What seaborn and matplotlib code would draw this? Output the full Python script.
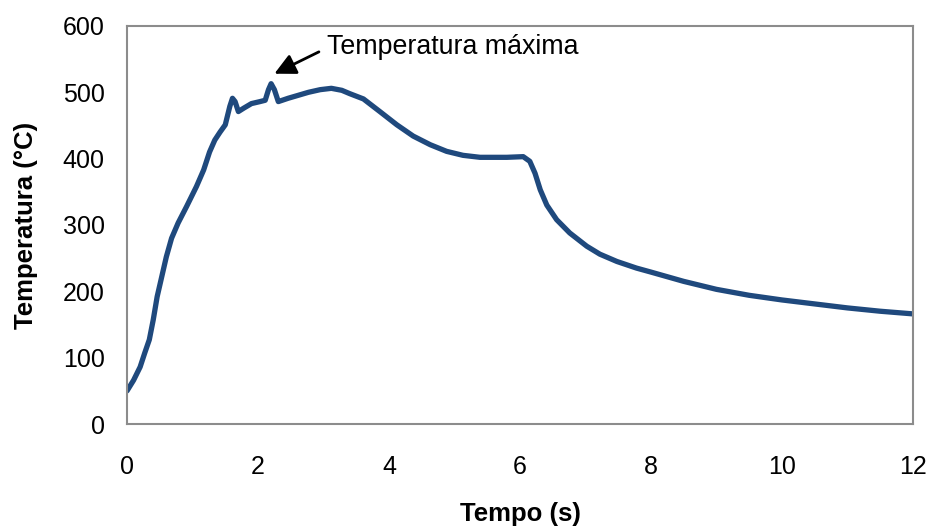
import matplotlib
matplotlib.use("Agg")
import matplotlib.pyplot as plt
import seaborn as sns
import pandas as pd

# Temperature history of the measured point
tempo_s = [0.00, 0.10, 0.20, 0.27, 0.34, 0.40, 0.46, 0.53, 0.60, 0.68, 0.78,
           0.91, 1.06, 1.17, 1.26, 1.34, 1.42, 1.50, 1.57, 1.61, 1.65, 1.70,
           1.78, 1.90, 2.03, 2.11, 2.16, 2.20, 2.25, 2.31, 2.46, 2.77, 2.95,
           3.12, 3.28, 3.40, 3.61, 3.86, 4.12, 4.37, 4.63, 4.88, 5.13, 5.39,
           5.80, 6.05, 6.15, 6.23, 6.31, 6.41, 6.56, 6.76, 7.02, 7.22, 7.48,
           7.78, 8.00, 8.50, 9.00, 9.50, 10.00, 10.50, 11.00, 11.50, 12.00]
temperatura_c = [50, 66, 86, 107, 127, 157, 192, 222, 252, 280, 303,
                 328, 358, 383, 410, 428, 440, 451, 479, 491, 486, 471,
                 476, 483, 486, 488, 504, 513, 504, 486, 491, 500, 504,
                 506, 503, 498, 490, 471, 451, 434, 421, 411, 405, 402,
                 402, 403, 396, 378, 353, 330, 308, 288, 268, 256, 245,
                 235, 229, 215, 203, 194, 187, 181, 175, 170, 166]

x_ticks = [0, 2, 4, 6, 8, 10, 12]
y_ticks = [0, 100, 200, 300, 400, 500, 600]

sns.set_style("white")
plt.rcParams["font.family"] = ["Liberation Sans", "DejaVu Sans"]
plt.rcParams["text.color"] = "black"
plt.rcParams["axes.labelcolor"] = "black"

df = pd.DataFrame({"Tempo (s)": tempo_s, "Temperatura (°C)": temperatura_c})

fig = plt.figure(figsize=(9.3, 5.3), dpi=100)
ax = fig.add_axes([0.1366, 0.2, 0.845, 0.751])

sns.lineplot(data=df, x="Tempo (s)", y="Temperatura (°C)", ax=ax,
             color="#1F497D", linewidth=3.8, solid_capstyle="round",
             solid_joinstyle="round")

ax.set_xlim(0, 12)
ax.set_ylim(0, 600)
ax.set_xticks(x_ticks)
ax.set_yticks(y_ticks)

for s in ax.spines.values():
    s.set_color("#8c8c8c")
    s.set_linewidth(1.5)

ax.tick_params(axis="both", which="major", labelsize=18, colors="#8c8c8c",
               labelcolor="black", length=6, width=1.5, direction="out")
ax.tick_params(axis="y", pad=10)
ax.tick_params(axis="x", pad=16)

ax.set_xlabel("Tempo (s)", fontsize=18.5, fontweight="bold", labelpad=17)
ax.set_ylabel("Temperatura (°C)", fontsize=18.5, fontweight="bold", labelpad=18)

# label and arrow pointing at the highest peak
ax.text(3.05, 569, "Temperatura máxima", fontsize=19.3, ha="left",
        va="center", color="black")
ax.annotate("", xy=(2.25, 528), xytext=(2.93, 561),
            arrowprops=dict(arrowstyle="-|>", color="black", lw=2,
                            mutation_scale=32, shrinkA=0, shrinkB=0))

fig.savefig("out.png", dpi=100)
